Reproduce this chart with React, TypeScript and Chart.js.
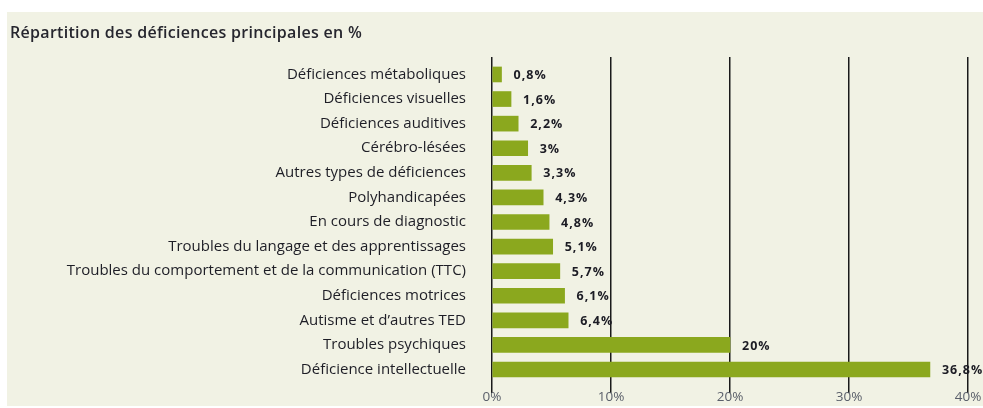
import React, { useEffect, useRef } from "react";
import { Chart, registerables } from "chart.js";

Chart.register(...registerables);

const categories = [
  "Déficiences métaboliques",
  "Déficiences visuelles",
  "Déficiences auditives",
  "Cérébro-lésées",
  "Autres types de déficiences",
  "Polyhandicapées",
  "En cours de diagnostic",
  "Troubles du langage et des apprentissages",
  "Troubles du comportement et de la communication (TTC)",
  "Déficiences motrices",
  "Autisme et d’autres TED",
  "Troubles psychiques",
  "Déficience intellectuelle",
];

const values = [0.8, 1.6, 2.2, 3, 3.3, 4.3, 4.8, 5.1, 5.7, 6.1, 6.4, 20, 36.8];

const xTicks = [0, 10, 20, 30, 40];

const title = "Répartition des déficiences principales en %";

const FONT = "'Open Sans', 'Liberation Sans', Arial, sans-serif";

const fmt = (v: number) => String(v).replace(".", ",") + "%";

const valueLabels = {
  id: "valueLabels",
  afterDatasetsDraw(chart: any) {
    const ctx = chart.ctx;
    const meta = chart.getDatasetMeta(0);
    ctx.save();
    ctx.font = `bold 12.5px ${FONT}`;
    try {
      (ctx as any).letterSpacing = "1px";
    } catch (e) {}
    ctx.fillStyle = "#1c1c24";
    ctx.textBaseline = "middle";
    ctx.textAlign = "left";
    meta.data.forEach((el: any, i: number) => {
      ctx.fillText(fmt(values[i]), el.x + 12, el.y + 1);
    });
    ctx.restore();
  },
};

export default function App() {
  const ref = useRef<HTMLCanvasElement>(null);
  useEffect(() => {
    if (!ref.current) return;
    const chart = new Chart(ref.current, {
      type: "bar",
      data: {
        datasets: [
          {
            data: values.map((v, i) => ({ x: v, y: i })),
            backgroundColor: "#8ba81e",
            borderWidth: 0,
            barThickness: 15,
          },
        ],
      },
      options: {
        indexAxis: "y",
        responsive: false,
        animation: false,
        devicePixelRatio: 1,
        layout: { padding: { left: 0, right: 15, top: 45, bottom: 0 } },
        plugins: { legend: { display: false }, tooltip: { enabled: false } },
        scales: {
          x: {
            type: "linear",
            min: 0,
            max: 40,
            offset: false,
            afterBuildTicks: (scale: any) => {
              scale.ticks = xTicks.map((v) => ({ value: v }));
            },
            afterFit: (scale: any) => {
              scale.height = 19;
              scale.paddingLeft = 0;
              scale.paddingRight = 0;
            },
            ticks: {
              callback: (v: any) => v + "%",
              color: "#5a5f6a",
              font: { family: FONT, size: 13.5 },
              padding: -4,
              maxRotation: 0,
            },
            grid: {
              color: "#1a1a1a",
              lineWidth: 1.5,
              tickLength: 6,
              drawTicks: true,
              offset: false,
            },
            border: { display: false },
          },
          y: {
            type: "linear",
            reverse: true,
            min: -0.71,
            max: 12.71,
            offset: false,
            afterBuildTicks: (scale: any) => {
              scale.ticks = categories.map((_, i) => ({ value: i }));
            },
            afterFit: (scale: any) => {
              scale.width = 485;
              scale.paddingTop = 0;
              scale.paddingBottom = 0;
            },
            ticks: {
              callback: (v: any) => categories[v] ?? "",
              color: "#1e1e26",
              font: { family: FONT, size: 15 },
              padding: 26,
              autoSkip: false,
            },
            grid: { display: false, drawTicks: false, offset: false },
            border: { display: false },
          },
        },
      },
      plugins: [valueLabels],
    });
    return () => chart.destroy();
  }, []);

  return (
    <div
      style={{
        position: "fixed",
        left: 0,
        top: 0,
        width: 983,
        height: 408,
        background: "#ffffff",
        overflow: "hidden",
      }}
    >
      <div
        style={{
          position: "absolute",
          left: 7,
          top: 12,
          width: 976,
          height: 394,
          background: "#f1f2e4",
        }}
      >
        <div
          style={{
            position: "absolute",
            left: 3,
            top: 9,
            fontFamily: FONT,
            fontSize: 16,
            fontWeight: 600,
            letterSpacing: "0.3px",
            color: "#26262e",
            whiteSpace: "nowrap",
          }}
        >
          {title}
        </div>
        <canvas ref={ref} width={976} height={394} style={{ display: "block" }} />
      </div>
    </div>
  );
}
